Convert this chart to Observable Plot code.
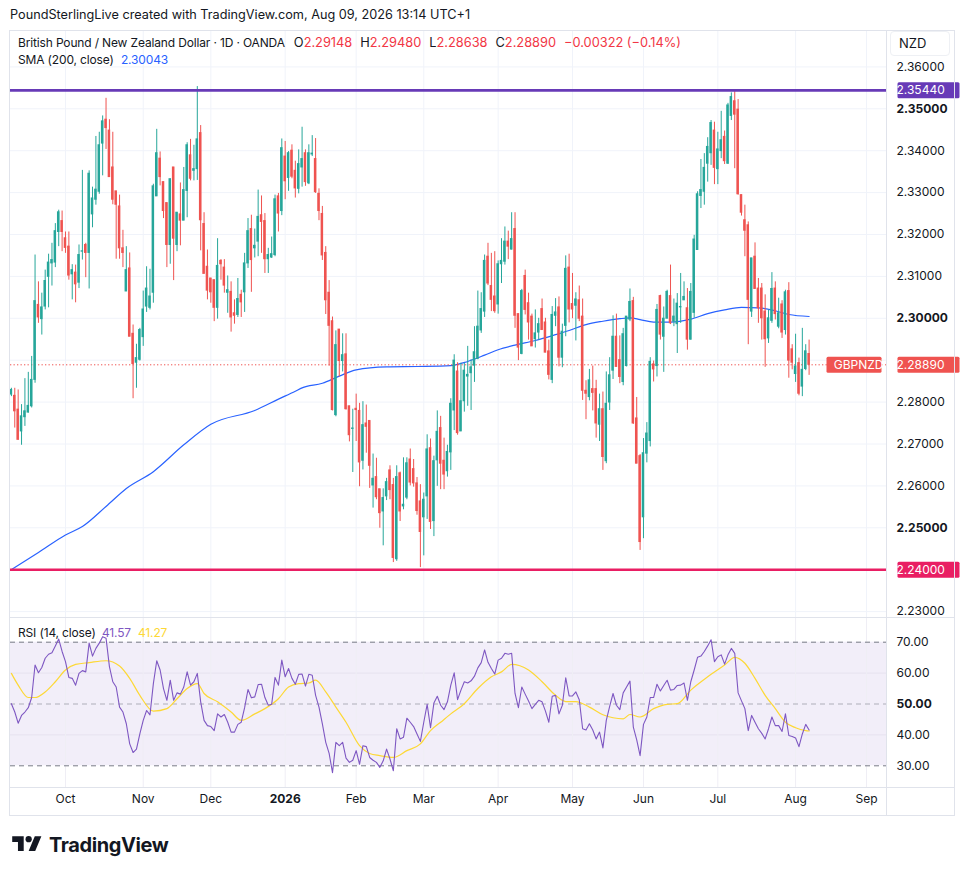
<!DOCTYPE html>
<html><head><meta charset="utf-8">
<script src="https://cdn.jsdelivr.net/npm/d3@7"></script>
<script src="https://cdn.jsdelivr.net/npm/@observablehq/plot@0.6"></script>
<style>
body{margin:0;background:#fff;}
#root{position:relative;width:964px;height:875px;font-family:Inter,"Noto Sans",sans-serif;color:#131722;overflow:hidden;background:#fff;}
.abs{position:absolute;white-space:nowrap;}
.leg{font-size:12px;line-height:16px;letter-spacing:-0.15px;}
.red{color:#f23645;}
.sp{margin-left:8px;letter-spacing:0;font-size:12.8px;}
svg{overflow:visible;}
</style></head><body><div id="root">
<div class="abs" style="left:10px;top:7px;font-size:12.7px;line-height:16px;">PoundSterlingLive created with TradingView.com, Aug 09, 2026 13:14 UTC+1</div>
<div id="mainHost" class="abs" style="left:0;top:31px;"></div>
<div id="rsiHost" class="abs" style="left:0;top:617px;"></div>
<div class="abs" style="left:9px;top:30px;width:946px;height:786px;border:1px solid #e0e3eb;box-sizing:border-box;"></div>
<div class="abs" style="left:10px;top:617px;width:945px;height:1px;background:#e0e3eb;"></div>
<div class="abs" style="left:10px;top:787px;width:945px;height:1px;background:#e0e3eb;"></div>
<div class="abs" style="left:886px;top:30px;width:1px;height:786px;background:#e0e3eb;"></div>
<div class="abs" style="left:890px;top:31px;width:60px;height:25px;border:1px solid #eef0f4;border-radius:4px;box-sizing:border-box;background:#fff;font-size:13px;line-height:23px;padding-left:8px;">NZD</div>
<div id="leg1" class="abs leg" style="left:18px;top:35px;"></div>
<div id="leg2" class="abs leg" style="left:18px;top:52px;"></div>
<div id="leg3" class="abs leg" style="left:18px;top:625px;"></div>
<svg class="abs" style="left:12px;top:833px" width="30" height="23" viewBox="0 0 36 28"><path d="M14 22H7V11H0V4h14v18zM28 22h-8l7.5-18h8L28 22z" fill="#131722"/><circle cx="20" cy="7.5" r="3.8" fill="#131722"/></svg>
<div class="abs" style="left:49px;top:832px;font-size:20px;line-height:26px;font-weight:700;letter-spacing:-0.4px;">TradingView</div>
</div>
<script>
// ---- data (bar index 0 = 2025-09-09 ... 236 = 2026-08-07, daily OANDA GBP/NZD) ----
const opens = [
2.2818,2.2815,2.2782,2.2730,2.2764,2.2775,2.2790,2.2853,2.3032,2.2998,
2.3028,2.3099,2.3131,2.3133,2.3206,2.3232,2.3191,2.3171,2.3105,2.3109,
2.3085,2.3159,2.3175,2.3156,2.3248,2.3283,2.3302,2.3417,2.3474,2.3448,
2.3360,2.3303,2.3267,2.3167,2.3064,2.3119,2.2963,2.2894,2.2901,2.2955,
2.3028,2.3025,2.3061,2.3291,2.3381,2.3325,2.3275,2.3175,2.3360,2.3175,
2.3248,2.3233,2.3304,2.3389,2.3352,2.3356,2.3442,2.3225,2.3123,2.3095,
2.3091,2.3025,2.3137,2.3121,2.3061,2.3063,2.3012,2.3008,2.3056,2.3062,
2.3131,2.3213,2.3167,2.3183,2.3246,2.3232,2.3141,2.3145,2.3151,2.3291,
2.3256,2.3386,2.3335,2.3400,2.3352,2.3309,2.3360,2.3394,2.3322,2.3391,
2.3380,2.3297,2.3249,2.3156,2.3061,2.2993,2.2769,2.2973,2.2898,2.2914,
2.2790,2.2736,2.2784,2.2779,2.2660,2.2749,2.2755,2.2601,2.2621,2.2592,
2.2539,2.2575,2.2637,2.2602,2.2425,2.2630,2.2551,2.2572,2.2663,2.2640,
2.2606,2.2563,2.2525,2.2575,2.2690,2.2516,2.2661,2.2738,2.2660,2.2635,
2.2680,2.2780,2.2873,2.2730,2.2802,2.2861,2.2869,2.2887,2.2903,2.2971,
2.3016,2.3147,2.3077,2.3052,2.3033,2.3129,2.3135,2.3183,2.3164,2.3213,
2.3010,2.2915,2.3101,2.3036,2.3004,2.2950,2.2966,2.3022,2.2990,2.2921,
2.2853,2.3006,2.3026,2.2906,2.2982,2.3121,2.3034,2.3030,2.3043,2.3004,
2.2827,2.2812,2.2831,2.2831,2.2746,2.2783,2.2659,2.2799,2.2875,2.2956,
2.2900,2.2848,2.2886,2.2997,2.3041,2.2761,2.2671,2.2525,2.2677,2.2707,
2.2890,2.2886,2.3053,2.2956,2.2999,2.3053,2.2992,2.2986,2.3026,2.3043,
2.3024,2.2949,2.3013,2.3163,2.3292,2.3302,2.3369,2.3394,2.3448,2.3356,
2.3399,2.3433,2.3369,2.3483,2.3518,2.3498,2.3294,2.3234,2.3222,2.3016,
2.3147,2.3071,2.3071,2.3016,2.2952,2.2994,2.3071,2.2980,2.3033,2.2972,
2.3065,2.2926,2.2867,2.2893,2.2837,2.2879,2.29148];
const highs = [
2.2833,2.2833,2.2829,2.2794,2.2856,2.2871,2.2909,2.3151,2.3087,2.3060,
2.3115,2.3153,2.3179,2.3226,2.3258,2.3256,2.3206,2.3206,2.3128,2.3127,
2.3175,2.3353,2.3179,2.3352,2.3313,2.3434,2.3444,2.3483,2.3525,2.3474,
2.3444,2.3303,2.3294,2.3210,2.3171,2.3156,2.2984,2.2938,2.2976,2.3065,
2.3123,2.3117,2.3320,2.3451,2.3397,2.3325,2.3275,2.3332,2.3360,2.3252,
2.3323,2.3360,2.3419,2.3427,2.3413,2.3553,2.3460,2.3252,2.3163,2.3095,
2.3091,2.3190,2.3140,2.3140,2.3101,2.3087,2.3044,2.3095,2.3067,2.3155,
2.3238,2.3246,2.3213,2.3306,2.3292,2.3250,2.3167,2.3194,2.3294,2.3298,
2.3428,2.3422,2.3398,2.3414,2.3375,2.3402,2.3456,2.3402,2.3414,2.3436,
2.3429,2.3309,2.3267,2.3171,2.3090,2.3003,2.2970,2.2973,2.2963,2.2963,
2.2790,2.2783,2.2819,2.2797,2.2801,2.2793,2.2755,2.2676,2.2666,2.2592,
2.2593,2.2618,2.2648,2.2618,2.2648,2.2633,2.2667,2.2667,2.2688,2.2663,
2.2620,2.2603,2.2583,2.2722,2.2712,2.2671,2.2779,2.2766,2.2714,2.2697,
2.2808,2.2913,2.2894,2.2893,2.2893,2.2933,2.2901,2.2980,2.3065,2.3061,
2.3151,2.3179,2.3155,2.3159,2.3137,2.3190,2.3218,2.3208,2.3252,2.3252,
2.3010,2.3069,2.3115,2.3060,2.3010,2.3020,2.3000,2.3046,2.3000,2.2948,
2.3028,2.3047,2.3051,2.2986,2.3149,2.3153,2.3107,2.3061,2.3077,2.3046,
2.2851,2.2878,2.2886,2.2852,2.2819,2.2824,2.2872,2.2906,2.3006,2.3010,
2.2958,2.2976,2.3004,2.3070,2.3050,2.2811,2.2675,2.2713,2.2751,2.2906,
2.2898,2.3033,2.3055,2.3027,2.3067,2.3127,2.3046,2.3059,2.3107,2.3087,
2.3071,2.3083,2.3198,2.3302,2.3379,2.3393,2.3431,2.3472,2.3468,2.3444,
2.3494,2.3447,2.3513,2.3538,2.3541,2.3522,2.3294,2.3270,2.3230,2.3143,
2.3180,2.3095,2.3083,2.3056,2.3020,2.3109,2.3087,2.3048,2.3042,2.3067,
2.3085,2.2937,2.2962,2.2905,2.2976,2.2937,2.29480];
const lows = [
2.2813,2.2738,2.2709,2.2697,2.2742,2.2774,2.2786,2.2845,2.2988,2.2960,
2.3020,2.3025,2.3077,2.3121,2.3171,2.3159,2.3155,2.3091,2.3044,2.3037,
2.3071,2.3139,2.3097,2.3070,2.3216,2.3270,2.3296,2.3340,2.3403,2.3337,
2.3271,2.3141,2.3141,2.3121,2.3064,2.2956,2.2808,2.2833,2.2898,2.2933,
2.3014,2.3020,2.3036,2.3291,2.3316,2.3238,2.3121,2.3129,2.3090,2.3159,
2.3173,2.3233,2.3240,2.3328,2.3328,2.3329,2.3161,2.3106,2.3044,2.3036,
2.2992,2.2998,2.3091,2.3060,2.3012,2.2967,2.2986,2.3002,2.3002,2.3014,
2.3119,2.3062,2.3144,2.3147,2.3155,2.3107,2.3107,2.3143,2.3147,2.3206,
2.3245,2.3283,2.3303,2.3333,2.3287,2.3297,2.3313,2.3315,2.3319,2.3386,
2.3298,2.3233,2.3138,2.3009,2.2886,2.2779,2.2765,2.2860,2.2872,2.2781,
2.2705,2.2632,2.2706,2.2598,2.2638,2.2678,2.2594,2.2547,2.2567,2.2499,
2.2457,2.2565,2.2567,2.2417,2.2420,2.2515,2.2543,2.2567,2.2600,2.2597,
2.2530,2.2405,2.2433,2.2520,2.2496,2.2479,2.2599,2.2591,2.2591,2.2621,
2.2637,2.2732,2.2721,2.2730,2.2776,2.2790,2.2780,2.2847,2.2901,2.2964,
2.3002,2.3078,2.3016,2.3012,2.3010,2.3083,2.3127,2.3140,2.3163,2.2976,
2.2899,2.2913,2.3008,2.2948,2.2933,2.2929,2.2948,2.2972,2.2918,2.2853,
2.2844,2.2980,2.2884,2.2882,2.2956,2.2989,2.2999,2.2946,2.2992,2.2804,
2.2758,2.2803,2.2779,2.2714,2.2706,2.2637,2.2653,2.2780,2.2854,2.2884,
2.2844,2.2839,2.2884,2.2992,2.2747,2.2653,2.2446,2.2474,2.2655,2.2693,
2.2848,2.2860,2.2948,2.2871,2.2999,2.2985,2.2980,2.2916,2.2988,2.3042,
2.2924,2.2948,2.3000,2.3163,2.3262,2.3270,2.3325,2.3365,2.3319,2.3319,
2.3381,2.3367,2.3367,2.3472,2.3357,2.3294,2.3244,2.3147,2.2937,2.3002,
2.3070,2.2988,2.2948,2.2883,2.2940,2.2988,2.2996,2.2975,2.2952,2.2960,
2.2857,2.2877,2.2847,2.2815,2.2813,2.2875,2.28638];
const closes = [
2.2829,2.2778,2.2710,2.2766,2.2778,2.2791,2.2853,2.3041,2.3002,2.3026,
2.3089,2.3133,2.3139,2.3208,2.3253,2.3206,2.3168,2.3102,2.3115,2.3081,
2.3151,2.3160,2.3156,2.3345,2.3286,2.3307,2.3413,2.3470,2.3454,2.3337,
2.3283,2.3271,2.3167,2.3156,2.3115,2.2956,2.2891,2.2905,2.2972,2.3021,
2.3071,2.3052,2.3315,2.3394,2.3337,2.3256,2.3175,2.3332,2.3190,2.3252,
2.3233,2.3306,2.3413,2.3333,2.3356,2.3427,2.3234,2.3106,2.3066,2.3062,
2.3025,2.3125,2.3129,2.3078,2.3067,2.3002,2.3006,2.3046,2.3038,2.3131,
2.3208,2.3139,2.3173,2.3242,2.3230,2.3141,2.3151,2.3153,2.3284,2.3250,
2.3406,2.3327,2.3394,2.3338,2.3310,2.3368,2.3380,2.3325,2.3394,2.3393,
2.3301,2.3256,2.3150,2.3043,2.2982,2.2781,2.2936,2.2898,2.2912,2.2783,
2.2721,2.2737,2.2781,2.2656,2.2745,2.2741,2.2648,2.2617,2.2573,2.2535,
2.2571,2.2609,2.2590,2.2428,2.2621,2.2539,2.2555,2.2654,2.2608,2.2606,
2.2540,2.2490,2.2567,2.2687,2.2514,2.2659,2.2729,2.2653,2.2627,2.2681,
2.2796,2.2899,2.2726,2.2802,2.2875,2.2865,2.2883,2.2919,2.2980,2.3022,
2.3137,2.3083,2.3044,2.3017,2.3129,2.3137,2.3183,2.3171,2.3189,2.3006,
2.2930,2.3065,2.3020,2.2990,2.2933,2.2964,2.2986,2.2972,2.2918,2.2865,
2.3008,2.3014,2.2906,2.2968,2.3118,2.3021,2.3021,2.3045,2.2999,2.2827,
2.2820,2.2852,2.2822,2.2749,2.2783,2.2669,2.2796,2.2864,2.2956,2.2884,
2.2860,2.2962,2.3004,2.3039,2.2749,2.2653,2.2466,2.2678,2.2725,2.2896,
2.2878,2.3020,2.2961,2.2999,2.3063,2.2988,2.3004,2.3035,2.3027,2.3051,
2.2949,2.3063,2.3188,2.3296,2.3306,2.3359,2.3409,2.3466,2.3359,2.3403,
2.3425,2.3375,2.3508,2.3528,2.3486,2.3296,2.3252,2.3209,2.3044,2.3143,
2.3070,2.3024,2.3000,2.2950,2.3000,2.3070,2.3010,2.3012,2.2966,2.3062,
2.2899,2.2894,2.2885,2.2820,2.2877,2.29212,2.28890];

// SMA(200) read at sampled bars
const smaIdx = [0,8,16,21,28,34,42,51,59,72,79,84,86,92,97,102,111,120,130,135,140,144,149,155,161,165,170,175,180,183,186,190,195,201,206,211,216,221,226,230,236];
const smaVal = [2.2400,2.2441,2.2483,2.2503,2.2551,2.2594,2.2634,2.2698,2.2747,2.2780,2.2807,2.2826,2.2834,2.2845,2.2862,2.2877,2.2884,2.2885,2.2887,2.2897,2.2912,2.2925,2.2936,2.2947,2.2961,2.2971,2.2985,2.2993,2.2999,2.3001,2.2997,2.2991,2.2991,2.2998,2.3011,2.3020,2.3026,2.3025,2.3018,2.3009,2.30043];

// RSI(14) per bar
const rsi = [
50.1,47.4,43.8,46.3,47.4,48.8,52.1,62.6,60.1,61.8,
64.8,66.1,66.6,68.8,71.0,67.0,63.7,58.6,58.3,56.1,
59.9,60.8,60.4,69.7,65.5,68.0,69.7,71.8,71.3,62.1,
57.2,55.5,49.0,47.4,43.6,37.1,34.3,35.4,40.3,44.7,
47.9,46.5,56.6,64.0,61.0,55.0,51.2,57.7,51.2,53.6,
53.2,55.5,60.4,56.1,57.2,59.9,50.7,44.7,43.0,42.7,
41.4,46.8,45.8,46.6,44.1,40.9,40.9,43.4,44.1,48.8,
54.7,52.0,52.3,56.3,56.4,52.1,49.6,49.9,58.6,56.1,
64.2,58.8,61.5,58.3,56.4,59.6,59.7,55.8,59.6,59.3,
52.8,49.0,43.6,37.6,34.0,27.8,37.6,36.5,37.6,32.5,
31.1,31.8,34.9,30.5,36.5,36.2,32.7,31.8,31.1,29.5,
31.6,35.4,32.2,28.4,42.0,38.7,39.2,45.4,44.1,42.7,
40.3,37.9,44.1,49.9,42.3,50.3,52.5,49.6,48.2,50.7,
56.1,60.1,51.4,54.5,57.2,56.8,57.5,59.0,61.7,63.4,
67.5,63.5,61.5,59.7,64.2,64.8,66.4,66.1,66.4,53.4,
48.8,55.5,53.2,51.0,48.5,49.9,51.2,50.7,47.7,44.1,
52.5,52.8,46.8,49.6,58.5,52.6,52.6,53.9,51.4,42.0,
41.6,43.6,41.6,38.7,40.9,35.8,44.7,49.2,53.4,49.6,
48.2,53.6,55.5,57.4,42.5,38.4,33.3,43.4,45.8,52.1,
52.1,56.4,54.2,56.0,57.7,54.5,54.7,56.0,56.1,56.8,
51.2,57.2,61.0,65.1,65.5,67.0,68.8,70.8,63.7,65.3,
65.9,62.9,65.9,68.0,66.4,53.6,51.0,48.5,41.4,46.3,
44.1,42.0,40.5,38.7,42.0,45.8,43.0,43.0,41.1,46.8,
39.8,39.5,39.0,36.2,40.3,43.4,41.57];

// RSI moving average read at sampled bars
const rsiMaIdx = [0,2,5,7,10,13,16,19,23,28,32,35,38,42,46,49,52,55,57,61,65,68,72,75,79,82,85,88,90,93,96,99,103,106,109,113,117,121,124,127,130,134,138,142,145,148,153,157,161,164,167,171,175,181,183,186,190,194,197,201,206,211,214,217,220,223,226,229,232,235,236];
const rsiMaVal = [59.9,56.1,52.1,52.1,53.9,57.2,61.0,62.8,63.4,64.0,62.3,58.3,52.8,47.7,48.5,51.7,55.0,56.6,53.4,50.7,47.4,44.7,46.8,48.5,51.7,55.5,56.6,56.8,57.7,53.9,49.0,44.1,36.5,34.0,33.3,32.7,34.9,37.1,41.4,44.1,46.8,50.1,55.0,58.8,60.4,62.8,61.0,57.2,52.8,50.8,50.8,49.0,46.5,45.2,46.6,45.8,48.5,49.9,50.1,54.5,58.8,62.6,65.1,63.2,58.3,52.8,48.5,44.1,42.3,41.4,41.27];

// axis ticks
const monthIdx = [16,39,59,81,102,122,144,166,187,209,232,253];
const monthLabels = ["Oct","Nov","Dec","2026","Feb","Mar","Apr","May","Jun","Jul","Aug","Sep"];
const priceTicks = [2.36,2.35,2.34,2.33,2.32,2.31,2.30,2.29,2.28,2.27,2.26,2.25,2.24,2.23];
const priceBold = [2.35,2.30,2.25];
const rsiTicks = [70,60,50,40,30];
const resistance = 2.3544;
const support = 2.24;

// ---- build ----
const candles = opens.map((o, i) => ({i, o, h: highs[i], l: lows[i], c: closes[i]}));
const last = candles[candles.length - 1];
const prevClose = closes[closes.length - 2];
const col = d => d.c >= d.o ? "#26a69a" : "#ef5350";
const xScale = {domain: [0, 236], range: [10.9, 808.6], axis: null};
const font = {fontFamily: "Inter, 'Noto Sans', sans-serif", fontSize: "12px", background: "transparent", overflow: "visible"};
const isBold = v => priceBold.some(b => Math.abs(b - v) < 1e-9);
// tick labels hidden behind the price / level badges are not drawn
const covered = v => Math.abs(v - support) < 1e-9 || Math.abs(v - last.c) < 0.006;

function boxed(bg, x0, w, h) {
  return function(index, scales, values, dimensions, context, next) {
    const g = next(index, scales, values, dimensions, context);
    const right = dimensions.width - dimensions.marginRight;
    for (const i of index) {
      const r = document.createElementNS("http://www.w3.org/2000/svg", "rect");
      r.setAttribute("x", right + x0);
      r.setAttribute("y", values.y[i] - h / 2);
      r.setAttribute("width", w);
      r.setAttribute("height", h);
      r.setAttribute("rx", 1.5);
      r.setAttribute("fill", bg);
      g.insertBefore(r, g.firstChild);
    }
    return g;
  };
}

const main = Plot.plot({
  width: 964, height: 586,
  marginLeft: 10, marginRight: 78, marginTop: 0, marginBottom: 0,
  x: xScale,
  y: {domain: [2.23, 2.36], range: [580.1, 35.4], axis: null},
  style: font,
  marks: [
    Plot.ruleY(priceTicks, {stroke: "#f0f3fa"}),
    Plot.ruleX(monthIdx, {stroke: "#f0f3fa"}),
    Plot.line(smaIdx.map((i, k) => ({i, v: smaVal[k]})), {x: "i", y: "v", stroke: "#2962ff", strokeWidth: 1.2, curve: "monotone-x"}),
    Plot.ruleY([last.c], {stroke: "#ef5350", strokeDasharray: "1.3,2.2"}),
    Plot.ruleX(candles, {x: "i", y1: "l", y2: "h", stroke: col, strokeWidth: 1}),
    Plot.rect(candles, {x1: d => d.i - 0.37, x2: d => d.i + 0.37, y1: "o", y2: "c", fill: col, insetTop: -0.5, insetBottom: -0.5}),
    Plot.ruleY([resistance], {stroke: "#673ab7", strokeWidth: 2.6}),
    Plot.ruleY([support], {stroke: "#e91e63", strokeWidth: 2.6}),
    Plot.text(priceTicks.filter(v => !isBold(v) && !covered(v)), {y: d => d, text: d => d.toFixed(5), frameAnchor: "right", dx: 10, textAnchor: "start", fill: "#131722"}),
    Plot.text(priceTicks.filter(v => isBold(v) && !covered(v)), {y: d => d, text: d => d.toFixed(5), frameAnchor: "right", dx: 10, textAnchor: "start", fill: "#131722", fontWeight: "bold"}),
    Plot.text([resistance], {y: d => d, text: d => d.toFixed(5), frameAnchor: "right", dx: 10, textAnchor: "start", fill: "white", render: boxed("#673ab7", 1, 62, 16)}),
    Plot.text([support], {y: d => d, text: d => d.toFixed(5), frameAnchor: "right", dx: 10, textAnchor: "start", fill: "white", render: boxed("#e91e63", 1, 62, 16)}),
    Plot.text([last.c], {y: d => d, text: d => d.toFixed(5), frameAnchor: "right", dx: 10, textAnchor: "start", fill: "white", render: boxed("#ef5350", 1, 62, 16)}),
    Plot.text([last.c], {y: d => d, text: ["GBPNZD"], frameAnchor: "right", dx: -3, textAnchor: "end", fill: "white", render: boxed("#ef5350", -57, 55, 16)})
  ]
});
document.getElementById("mainHost").appendChild(main);

const rsiPlot = Plot.plot({
  width: 964, height: 198,
  marginLeft: 10, marginRight: 78, marginTop: 1, marginBottom: 28,
  x: xScale,
  y: {domain: [30, 70], range: [148.3, 24.7], axis: null},
  style: font,
  marks: [
    Plot.rect([0], {y1: 30, y2: 70, fill: "#7e57c2", fillOpacity: 0.1}),
    Plot.ruleY([40, 60], {stroke: "#e6e2ef"}),
    Plot.ruleX(monthIdx, {stroke: "#efeef5"}),
    Plot.ruleY([70, 30], {stroke: "#787b86", strokeDasharray: "5,4"}),
    Plot.ruleY([50], {stroke: "#787b86", strokeOpacity: 0.55, strokeDasharray: "5,4"}),
    Plot.line(rsiMaIdx.map((i, k) => ({i, v: rsiMaVal[k]})), {x: "i", y: "v", stroke: "#fdd835", strokeWidth: 1.2, curve: "monotone-x"}),
    Plot.line(rsi.map((v, i) => ({i, v})), {x: "i", y: "v", stroke: "#7e57c2", strokeWidth: 1.1}),
    Plot.text(rsiTicks.filter(v => v !== 50), {y: d => d, text: d => d.toFixed(2), frameAnchor: "right", dx: 10, textAnchor: "start", fill: "#131722"}),
    Plot.text([50], {y: d => d, text: d => d.toFixed(2), frameAnchor: "right", dx: 10, textAnchor: "start", fill: "#131722", fontWeight: "bold"}),
    Plot.text(monthIdx.map((i, k) => ({i, t: monthLabels[k]})).filter(d => d.t !== "2026"), {x: "i", text: "t", frameAnchor: "bottom", dy: 15, fill: "#131722"}),
    Plot.text(monthIdx.map((i, k) => ({i, t: monthLabels[k]})).filter(d => d.t === "2026"), {x: "i", text: "t", frameAnchor: "bottom", dy: 15, fill: "#131722", fontWeight: "bold"})
  ]
});
document.getElementById("rsiHost").appendChild(rsiPlot);

// legends from the data
const f5 = v => v.toFixed(5);
const chg = last.c - prevClose;
const chgTxt = (chg < 0 ? "\u2212" : "+") + Math.abs(chg).toFixed(5) + " (" + (chg < 0 ? "\u2212" : "+") + Math.abs(chg / prevClose * 100).toFixed(2) + "%)";
document.getElementById("leg1").innerHTML =
  'British Pound / New Zealand Dollar \u00b7 1D \u00b7 OANDA' +
  '<span class="sp" style="margin-left:9px">O<span class="red">' + f5(last.o) + '</span></span>' +
  '<span class="sp">H<span class="red">' + f5(last.h) + '</span></span>' +
  '<span class="sp">L<span class="red">' + f5(last.l) + '</span></span>' +
  '<span class="sp">C<span class="red">' + f5(last.c) + '</span></span>' +
  '<span class="sp red">' + chgTxt + '</span>';
document.getElementById("leg2").innerHTML = 'SMA (200, close) <span style="color:#2962ff;margin-left:4px">' + f5(smaVal[smaVal.length - 1]) + '</span>';
document.getElementById("leg3").innerHTML = 'RSI (14, close) <span style="color:#7e57c2;margin-left:3px">' + rsi[rsi.length - 1].toFixed(2) + '</span><span style="color:#fdd835;margin-left:7px">' + rsiMaVal[rsiMaVal.length - 1].toFixed(2) + '</span>';
</script></body></html>
